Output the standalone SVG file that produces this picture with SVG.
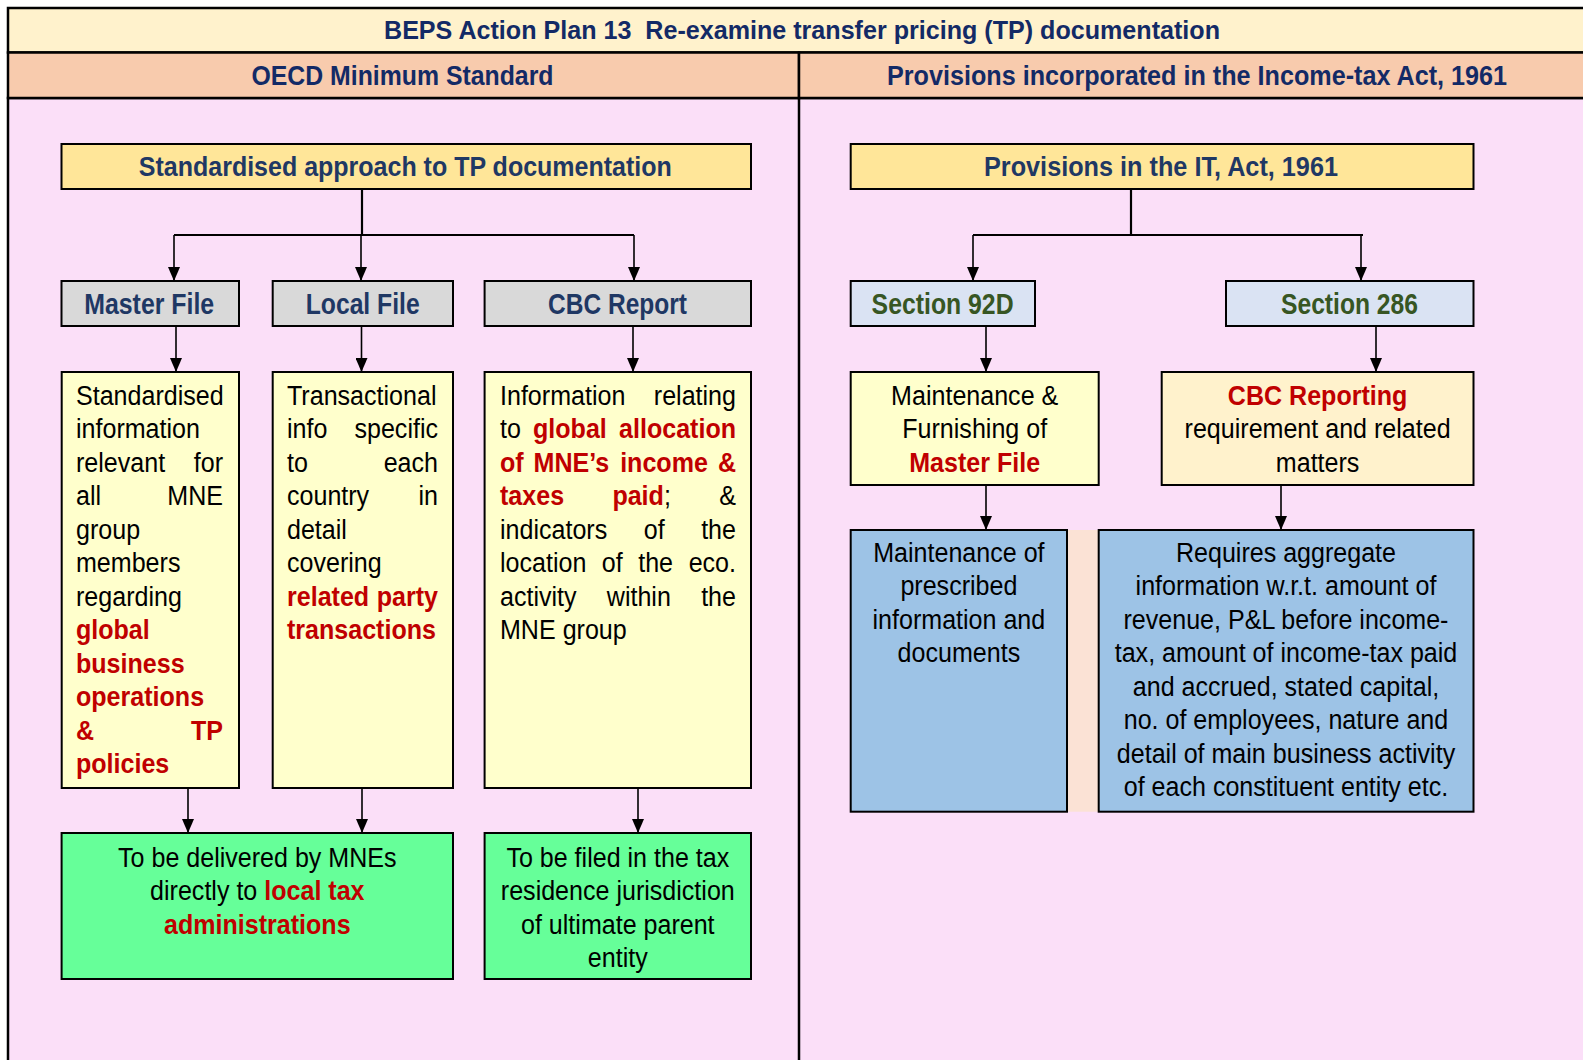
<svg xmlns="http://www.w3.org/2000/svg" width="1583" height="1060" viewBox="0 0 1583 1060">
<defs>
<marker id="arr" viewBox="0 0 14 12" refX="14" refY="6" markerWidth="14" markerHeight="12" markerUnits="userSpaceOnUse" orient="auto">
<path d="M0,0 L14,6 L0,12 z" fill="#000"/>
</marker>
<style>
.frame{stroke:#000;stroke-width:2.5}
.box{stroke:#000;stroke-width:2}
.hdr{font-family:"Liberation Sans",Arial,sans-serif;font-weight:bold;text-anchor:middle}
.navy{fill:#132A66}
.nv2{fill:#1F3864}
.grn{fill:#375623}
.b{font-family:"Liberation Sans",Arial,sans-serif;font-size:28px;fill:#000}
.r{fill:#C00000;font-weight:bold}
.e{text-anchor:end}
.m{text-anchor:middle}
.conn path{stroke:#000;stroke-width:1.6;fill:none}
.conn path.bar{stroke-width:2.2}
</style>
</defs>
<rect x="0" y="0" width="1583" height="1060" fill="#fff"/>
<g id="frame">
<rect class="frame" x="8" y="98" width="1590" height="975" fill="#FBDFF8"/>
<rect class="frame" x="8" y="8" width="1590" height="44.5" fill="#FFF2CC"/>
<rect class="frame" x="8" y="52.5" width="791" height="45.5" fill="#F8CBAD"/>
<rect class="frame" x="799" y="52.5" width="800" height="45.5" fill="#F8CBAD"/>
<line class="frame" x1="799" y1="98" x2="799" y2="1062"/>
<text class="hdr navy" x="802" y="39" font-size="25.5" textLength="836" lengthAdjust="spacingAndGlyphs" style="white-space:pre">BEPS Action Plan 13  Re-examine transfer pricing (TP) documentation</text>
<text class="hdr navy" x="402.5" y="84.5" font-size="27" textLength="302" lengthAdjust="spacingAndGlyphs">OECD Minimum Standard</text>
<text class="hdr navy" x="1197" y="84.5" font-size="27" textLength="620" lengthAdjust="spacingAndGlyphs">Provisions incorporated in the Income-tax Act, 1961</text>
</g>
<g id="connectors" class="conn">
<path class="bar" d="M362,189 V235"/>
<path class="bar" d="M174,235 H634"/>
<path d="M174,235 V281" marker-end="url(#arr)"/>
<path d="M361,235 V281" marker-end="url(#arr)"/>
<path d="M634,235 V281" marker-end="url(#arr)"/>
<path d="M176,326 V372" marker-end="url(#arr)"/>
<path d="M361.5,326 V372" marker-end="url(#arr)"/>
<path d="M633,326 V372" marker-end="url(#arr)"/>
<path d="M188,788 V833" marker-end="url(#arr)"/>
<path d="M362,788 V833" marker-end="url(#arr)"/>
<path d="M638,788 V833" marker-end="url(#arr)"/>
<path class="bar" d="M1131,189 V235"/>
<path class="bar" d="M973,235 H1363"/>
<path d="M973,235 V281" marker-end="url(#arr)"/>
<path d="M1361,235 V281" marker-end="url(#arr)"/>
<path d="M986,326 V372" marker-end="url(#arr)"/>
<path d="M1376,326 V372" marker-end="url(#arr)"/>
<path d="M986,485 V530" marker-end="url(#arr)"/>
<path d="M1281,485 V530" marker-end="url(#arr)"/>
</g>
<g id="std-approach">
<rect class="box" x="61.5" y="144" width="689.5" height="45" fill="#FFE699"/>
<text class="hdr nv2" x="405.3" y="176" font-size="27.5" textLength="533" lengthAdjust="spacingAndGlyphs">Standardised approach to TP documentation</text>
</g>
<g id="master-file">
<rect class="box" x="61.5" y="281" width="177.5" height="45" fill="#D9D9D9"/>
<text class="hdr nv2" x="149.2" y="313.5" font-size="29.5" textLength="130" lengthAdjust="spacingAndGlyphs">Master File</text>
</g>
<g id="local-file">
<rect class="box" x="272.7" y="281" width="180.3" height="45" fill="#D9D9D9"/>
<text class="hdr nv2" x="362.7" y="313.5" font-size="29.5" textLength="114" lengthAdjust="spacingAndGlyphs">Local File</text>
</g>
<g id="cbc-report">
<rect class="box" x="484.6" y="281" width="266.4" height="45" fill="#D9D9D9"/>
<text class="hdr nv2" x="617.5" y="313.5" font-size="29.5" textLength="139" lengthAdjust="spacingAndGlyphs">CBC Report</text>
</g>
<g id="master-text">
<rect class="box" x="61.7" y="372" width="177.3" height="416" fill="#FFFFCC"/>
<g class="b" transform="scale(0.895 1)">
<text x="84.92" y="405">Standardised</text>
<text x="84.92" y="438.5">information</text>
<text x="84.92" y="472">relevant</text><text class="e" x="249.16" y="472">for</text>
<text x="84.92" y="505.5">all</text><text class="e" x="249.16" y="505.5">MNE</text>
<text x="84.92" y="539">group</text>
<text x="84.92" y="572.5">members</text>
<text x="84.92" y="606">regarding</text>
<text class="r" x="84.92" y="639.5">global</text>
<text class="r" x="84.92" y="673">business</text>
<text class="r" x="84.92" y="706.5">operations</text>
<text class="r" x="84.92" y="740">&amp;</text><text class="r e" x="249.16" y="740">TP</text>
<text class="r" x="84.92" y="773.5">policies</text>
</g>
</g>
<g id="local-text">
<rect class="box" x="272.7" y="372" width="180.3" height="416" fill="#FFFFCC"/>
<g class="b" transform="scale(0.895 1)">
<text x="320.67" y="405">Transactional</text>
<text x="320.67" y="438.5">info</text><text class="e" x="489.39" y="438.5">specific</text>
<text x="320.67" y="472">to</text><text class="e" x="489.39" y="472">each</text>
<text x="320.67" y="505.5">country</text><text class="e" x="489.39" y="505.5">in</text>
<text x="320.67" y="539">detail</text>
<text x="320.67" y="572.5">covering</text>
<text class="r" x="320.67" y="606">related</text><text class="r e" x="489.39" y="606">party</text>
<text class="r" x="320.67" y="639.5">transactions</text>
</g>
</g>
<g id="cbc-text">
<rect class="box" x="484.6" y="372" width="266.4" height="416" fill="#FFFFCC"/>
<g class="b" transform="scale(0.895 1)">
<text x="558.66" y="405">Information</text><text class="e" x="822.35" y="405">relating</text>
<text x="558.66" y="438.5">to</text><text class="r" x="595.55" y="438.5">global</text><text class="r e" x="822.35" y="438.5">allocation</text>
<text class="r" x="558.66" y="472">of</text><text class="r" x="596.21" y="472">MNE’s</text><text class="r" x="692.9" y="472">income</text><text class="r e" x="822.35" y="472">&amp;</text>
<text class="r" x="558.66" y="505.5">taxes</text><text x="684.24" y="505.5"><tspan class="r">paid</tspan>;</text><text class="e" x="822.35" y="505.5">&amp;</text>
<text x="558.66" y="539">indicators</text><text x="719.22" y="539">of</text><text class="e" x="822.35" y="539">the</text>
<text x="558.66" y="572.5">location</text><text x="672.45" y="572.5">of</text><text x="713.1" y="572.5">the</text><text class="e" x="822.35" y="572.5">eco.</text>
<text x="558.66" y="606">activity</text><text x="678" y="606">within</text><text class="e" x="822.35" y="606">the</text>
<text x="558.66" y="639.5">MNE group</text>
</g>
</g>
<g id="deliver-local">
<rect class="box" x="61.6" y="833" width="391.4" height="146" fill="#66FF99"/>
<g class="b m" transform="scale(0.895 1)">
<text x="287.49" y="867">To be delivered by MNEs</text>
<text x="287.49" y="900.5">directly to <tspan class="r">local tax</tspan></text>
<text class="r" x="287.49" y="934">administrations</text>
</g>
</g>
<g id="file-residence">
<rect class="box" x="484.6" y="833" width="266.4" height="146" fill="#66FF99"/>
<g class="b m" transform="scale(0.895 1)">
<text x="690.28" y="867">To be filed in the tax</text>
<text x="690.28" y="900.5">residence jurisdiction</text>
<text x="690.28" y="934">of ultimate parent</text>
<text x="690.28" y="967.5">entity</text>
</g>
</g>
<g id="provisions">
<rect class="box" x="850.7" y="144" width="622.8" height="45" fill="#FFE699"/>
<text class="hdr nv2" x="1161" y="176" font-size="27.5" textLength="354" lengthAdjust="spacingAndGlyphs">Provisions in the IT, Act, 1961</text>
</g>
<g id="section-92d">
<rect class="box" x="850.7" y="281" width="184.3" height="45" fill="#DAE3F3"/>
<text class="hdr grn" x="942.6" y="313.5" font-size="29.5" textLength="142" lengthAdjust="spacingAndGlyphs">Section 92D</text>
</g>
<g id="section-286">
<rect class="box" x="1226" y="281" width="247.5" height="45" fill="#DAE3F3"/>
<text class="hdr grn" x="1349.5" y="313.5" font-size="29.5" textLength="137" lengthAdjust="spacingAndGlyphs">Section 286</text>
</g>
<g id="maint-master">
<rect class="box" x="850.7" y="372" width="248" height="113" fill="#FFFFCC"/>
<g class="b m" transform="scale(0.895 1)">
<text x="1089.05" y="405">Maintenance &amp;</text>
<text x="1089.05" y="438.5">Furnishing of</text>
<text class="r" x="1089.05" y="472">Master File</text>
</g>
</g>
<g id="cbc-reporting">
<rect class="box" x="1161.7" y="372" width="311.8" height="113" fill="#FFF2CC"/>
<g class="b m" transform="scale(0.895 1)">
<text class="r" x="1472.18" y="405">CBC Reporting</text>
<text x="1472.18" y="438.5">requirement and related</text>
<text x="1472.18" y="472">matters</text>
</g>
</g>
<g id="strip">
<rect x="1067" y="530" width="31.7" height="281.7" fill="#FBE2D5"/>
</g>
<g id="maint-prescribed">
<rect class="box" x="850.7" y="530" width="216.3" height="281.7" fill="#9DC3E6"/>
<g class="b m" transform="scale(0.895 1)">
<text x="1071.4" y="562">Maintenance of</text>
<text x="1071.4" y="595.5">prescribed</text>
<text x="1071.4" y="629">information and</text>
<text x="1071.4" y="662.5">documents</text>
</g>
</g>
<g id="aggregate-info">
<rect class="box" x="1098.7" y="530" width="374.8" height="281.7" fill="#9DC3E6"/>
<g class="b m" transform="scale(0.895 1)">
<text x="1436.87" y="562">Requires aggregate</text>
<text x="1436.87" y="595.5">information w.r.t. amount of</text>
<text x="1436.87" y="629">revenue, P&amp;L before income-</text>
<text x="1436.87" y="662.5">tax, amount of income-tax paid</text>
<text x="1436.87" y="696">and accrued, stated capital,</text>
<text x="1436.87" y="729.5">no. of employees, nature and</text>
<text x="1436.87" y="763">detail of main business activity</text>
<text x="1436.87" y="796.5">of each constituent entity etc.</text>
</g>
</g>
</svg>
